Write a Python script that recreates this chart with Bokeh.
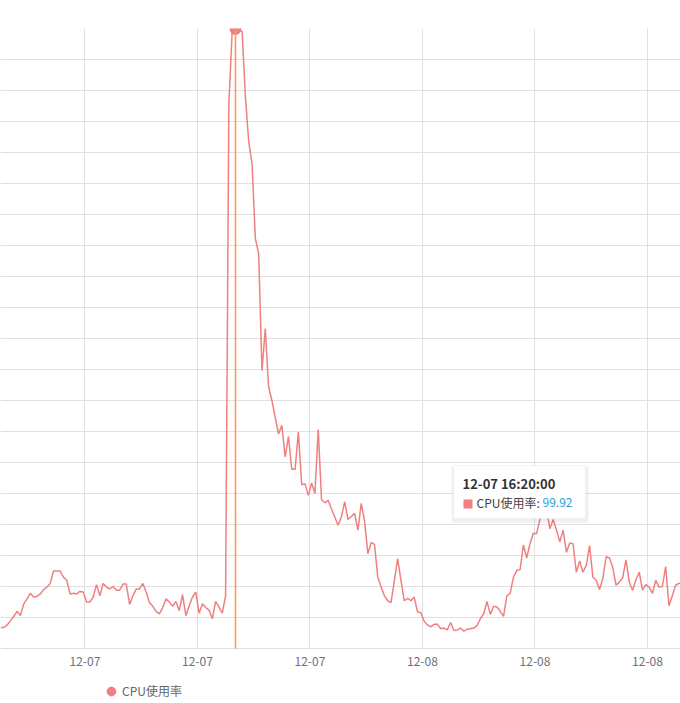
import pandas as pd
from bokeh.plotting import figure
from bokeh.models import (Range1d, FixedTicker, BoxAnnotation, Label, Legend,
                          LegendItem, ColumnDataSource)
from bokeh.embed import file_html
from bokeh.resources import INLINE

# ---- data ----
cpu = [
    3.4, 3.4, 3.8, 4.5, 5.2, 6.0, 5.3, 7.2, 8.0, 8.9,
    8.3, 8.4, 8.8, 9.5, 9.9, 10.5, 12.5, 12.5, 12.5, 11.5,
    11.0, 8.8, 8.9, 8.8, 9.2, 9.1, 7.5, 7.5, 8.3, 10.3,
    8.5, 10.5, 9.9, 9.6, 10.0, 9.4, 9.4, 10.4, 10.4, 7.1,
    8.5, 9.6, 9.6, 10.5, 9.1, 7.4, 6.8, 6.0, 5.6, 6.6,
    8.0, 7.5, 6.8, 7.6, 6.1, 8.7, 5.3, 6.9, 8.3, 9.1,
    5.7, 7.2, 6.6, 6.2, 4.8, 7.6, 6.7, 5.7, 8.5, 88.0,
    99.6, 99.92, 99.8, 99.5, 89.0, 81.7, 78.2, 66.1, 63.7, 44.8,
    51.6, 42.2, 40.0, 37.3, 34.6, 36.0, 30.9, 34.2, 28.9, 28.9,
    34.9, 26.4, 26.6, 24.7, 26.7, 25.0, 35.3, 24.0, 23.5, 23.9,
    22.5, 21.2, 19.9, 21.2, 23.7, 20.8, 21.3, 21.8, 19.1, 23.4,
    20.6, 15.3, 17.1, 16.8, 11.5, 9.9, 8.5, 7.7, 7.4, 10.9,
    14.5, 11.0, 7.7, 8.1, 7.7, 8.3, 5.9, 5.8, 4.4, 3.8,
    3.5, 3.9, 3.9, 3.2, 3.3, 3.0, 4.2, 2.9, 3.0, 3.3,
    2.8, 3.1, 3.2, 3.3, 3.7, 4.8, 5.6, 7.6, 5.5, 6.8,
    6.7, 6.0, 5.2, 8.5, 8.9, 11.5, 12.6, 12.7, 16.7, 14.6,
    16.9, 18.6, 18.5, 20.9, 24.0, 22.5, 19.3, 20.8, 19.1, 17.2,
    19.1, 15.5, 17.0, 16.9, 12.3, 14.1, 12.3, 13.4, 16.6, 11.5,
    11.0, 9.5, 11.3, 14.8, 14.6, 13.1, 10.2, 10.7, 11.4, 14.3,
    10.7, 9.4, 11.1, 12.3, 9.4, 10.3, 9.9, 8.9, 11.0, 9.9,
    10.0, 13.2, 6.9, 8.5, 10.2, 10.5, 10.6,
]
start_time = "2023-12-07 04:30"          # 10-minute samples
times = pd.date_range(start_time, periods=len(cpu), freq="10min")
categories = [t.strftime("%m-%d %H:%M:%S") for t in times]
series_name = "CPU使用率"
hover_idx = 71                            # sample shown in the tooltip
label_every = 34
first_label = 26
y_grid_ticks = list(range(0, 101, 5))

FONT = "Noto Sans CJK SC"
LINE_COLOR = "#f08080"
GRID_COLOR = "#e0e0e0"

idx = list(range(len(cpu)))
src = ColumnDataSource(dict(x=idx, y=cpu, t=categories))

# the frame runs to the bottom of the canvas; value 0 sits 55px above it
p = figure(width=680, height=703, output_backend="svg", toolbar_location=None,
           x_range=Range1d(-0.02, 205.48), y_range=Range1d(-55 / 6.2, 100),
           min_border_left=0, min_border_right=0, min_border_top=28,
           min_border_bottom=0)
p.outline_line_color = None
p.background_fill_color = "white"
p.border_fill_color = "white"

# ticks / grid
tick_idx = list(range(first_label, len(cpu), label_every))
ticks = [i - 0.5 for i in tick_idx]
p.xaxis.fixed_location = 0
p.xaxis.ticker = FixedTicker(ticks=ticks)
p.xaxis.major_label_overrides = {t: categories[i][:5] for t, i in zip(ticks, tick_idx)}
p.xaxis.major_tick_line_color = None
p.xaxis.minor_tick_line_color = None
p.xaxis.axis_line_color = None
p.xaxis.major_label_standoff = 2
p.xaxis.major_label_text_font = FONT
p.xaxis.major_label_text_font_size = "12px"
p.xaxis.major_label_text_color = "#6e7079"
p.yaxis.visible = False

p.ygrid.ticker = FixedTicker(ticks=y_grid_ticks)
p.ygrid.grid_line_color = GRID_COLOR
p.ygrid.grid_line_width = 1
xg = p.xgrid[0]
xg.ticker = FixedTicker(ticks=ticks)
xg.grid_line_color = GRID_COLOR
xg.grid_line_width = 1
if "cross_bounds" in xg.properties():
    xg.cross_bounds = (y_grid_ticks[0], y_grid_ticks[-1])
else:
    xg.visible = False
    p.segment(x0=ticks, y0=[y_grid_ticks[0]] * len(ticks),
              x1=ticks, y1=[y_grid_ticks[-1]] * len(ticks),
              line_color=GRID_COLOR, line_width=1, level="underlay")

# series
p.line("x", "y", source=src, line_color=LINE_COLOR, line_width=1.5)
hv = p.scatter(x=[hover_idx], y=[cpu[hover_idx]], size=11, marker="circle",
               fill_color=LINE_COLOR, line_color=LINE_COLOR)

# hover crosshair
p.segment(x0=[hover_idx], y0=[y_grid_ticks[0]], x1=[hover_idx],
          y1=[y_grid_ticks[-1]], line_color="#fb9a5a", line_width=1.6)

# tooltip
def sbox(l, r, t, b, **kw):
    return BoxAnnotation(left=l, right=r, top=t, bottom=b,
                         left_units="screen", right_units="screen",
                         top_units="screen", bottom_units="screen", **kw)

p.add_layout(sbox(451, 588, 237, 181, fill_color="black", fill_alpha=0.06,
                  line_color=None))
p.add_layout(sbox(453, 585, 238, 185, fill_color="white", fill_alpha=1.0,
                  line_color="#d6d9de", line_width=1))
p.add_layout(Label(x=462, y=220, x_units="screen", y_units="screen",
                   text=categories[hover_idx], text_font=FONT,
                   text_font_style="bold", text_font_size="13px",
                   text_color="#333333", text_baseline="middle"))
p.add_layout(sbox(463, 472, 204, 195, fill_color=LINE_COLOR, fill_alpha=1.0,
                  line_color=None))
p.add_layout(Label(x=476, y=201, x_units="screen", y_units="screen",
                   text=series_name + ":", text_font=FONT,
                   text_font_size="12px", text_color="#444444",
                   text_baseline="middle"))
p.add_layout(Label(x=542, y=201, x_units="screen", y_units="screen",
                   text=f"{cpu[hover_idx]:.2f}", text_font=FONT,
                   text_font_size="12px", text_color="#26a1d8",
                   text_baseline="middle"))

# legend (inside the frame, under the axis labels)
legend = Legend(items=[LegendItem(label=series_name, renderers=[hv])],
                location=(100, 1.5), orientation="horizontal",
                glyph_width=22, glyph_height=22, label_height=22,
                label_standoff=-5, padding=0, margin=0, spacing=0,
                border_line_color=None, background_fill_alpha=0,
                label_text_font=FONT, label_text_font_size="12px",
                label_text_color="#666666")
p.add_layout(legend)

open("out.html", "w").write(file_html(p, INLINE))
